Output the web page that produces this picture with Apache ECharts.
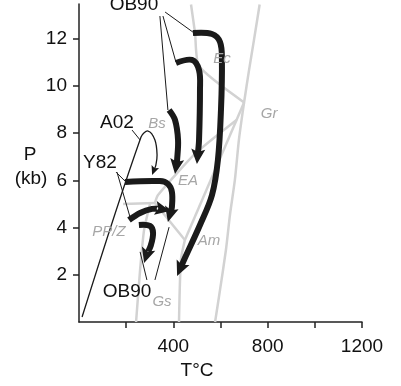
<!DOCTYPE html>
<html>
<head>
<meta charset="utf-8">
<script src="https://cdn.jsdelivr.net/npm/echarts@6/dist/echarts.min.js"></script>
<style>
  html, body { margin: 0; padding: 0; background: #fff; }
  #chart { width: 401px; height: 386px; }
</style>
</head>
<body>
<div id="chart"></div>
<script>
// axis ticks
var xTicks = [200, 400, 600, 800, 1000, 1200];
var xLabels = [400, 800, 1200];
var yTicks = [2, 4, 6, 8, 10, 12];

// facies boundaries [T °C, P kb]
var grLine = [[766, 13.45], [742, 11.95], [721, 10.67], [700, 9.3], [678, 7.71], [661, 6.02], [640, 4.53], [623, 3.05], [598, 1.36], [577, 0]];
var bsEcLine = [[475, 13.45], [492, 12.24], [509, 10.84], [700, 9.3]];
var eaAmLine = [[700, 9.3], [449, 3.47]];
var gsAmLine = [[449, 3.47], [432, 2.63], [424, 0]];
var bsEaLine = [[668, 8.56], [496, 7.16], [335, 5.38], [322, 5.04]];
var ppBsLine = [[187, 5.0], [322, 5.04]];
var gsEaLine = [[322, 5.04], [449, 3.47]];
var ppGsLine = [[301, 5.0], [276, 3.9], [259, 2.2], [242, 0]];

// P-T paths, last point = arrow tip
var ob90Big = [[483, 12.24], [564, 12.2], [598, 11.86], [606, 11.1], [602, 8.98], [589, 6.86], [564, 5.38], [513, 4.11], [449, 2.71], [416, 1.95]];
var ob90Mid = [[411, 10.97], [479, 11.1], [509, 10.67], [513, 9.83], [509, 7.71], [500, 6.69]];
var ob90Left = [[382, 8.98], [407, 8.56], [420, 7.71], [416, 6.86], [407, 6.27]];
var y82Upper = [[195, 5.93], [343, 5.97], [377, 5.85], [394, 5.51], [394, 4.87], [377, 4.24]];
var y82Lower = [[212, 4.32], [259, 4.62], [310, 4.79], [343, 4.79], [386, 4.70]];
var ob90Low = [[254, 4.11], [301, 4.07], [314, 3.77], [305, 3.26], [288, 2.88], [276, 2.50]];
var a02Path = [[13, 0.21], [263, 7.84], [293, 8.09], [322, 7.71], [331, 7.07], [326, 6.65], [310, 6.23]];

// label leader lines
var leaders = [
  [[365, 13.13], [483, 12.28]],
  [[356, 12.96], [411, 11.01]],
  [[343, 12.96], [377, 8.98]],
  [[157, 6.35], [199, 5.93]],
  [[161, 6.35], [220, 4.32]],
  [[225, 8.13], [259, 7.71]],
  [[288, 1.78], [259, 2.97]],
  [[322, 1.78], [382, 4.02]]
];

var blackLabels = [['OB90', 233, 13.43], ['A02', 161, 8.43], ['Y82', 89, 6.74], ['OB90', 204, 1.27]];
var faciesLabels = [['Ec', 606, 11.14], ['Gr', 806, 8.81], ['Bs', 331, 8.39], ['EA', 462, 5.97], ['Am', 551, 3.43], ['Gs', 352, 0.85], ['PP/Z', 127, 3.81]];

var ink = '#1a1a1a';
var grey = '#d2d2d2';
var font = 'Liberation Sans';

var chart = echarts.init(document.getElementById('chart'));

function greySeries(data) {
  return {
    type: 'line', data: data, symbol: 'none', smooth: 0.2, z: 1,
    lineStyle: { color: grey, width: 2.5 }, silent: true
  };
}
function leaderSeries(data) {
  return {
    type: 'line', data: data, symbol: 'none', z: 2,
    lineStyle: { color: ink, width: 1 }, silent: true
  };
}

// paths with arrow heads
function arrowSeries(list, width, headLen, headHalf) {
  return {
    type: 'custom',
    z: 3,
    silent: true,
    encode: { x: 0, y: 1 },
    data: list.map(function (p, i) { return [p[0][0], p[0][1], i]; }),
    renderItem: function (params, api) {
      var pts = list[params.dataIndex].map(function (d) { return api.coord(d); });
      var n = pts.length, tip = pts[n - 1], prev = pts[n - 2];
      var dx = tip[0] - prev[0], dy = tip[1] - prev[1];
      var L = Math.sqrt(dx * dx + dy * dy);
      var ux = dx / L, uy = dy / L, nx = -uy, ny = ux;
      var bx = tip[0] - ux * headLen, by = tip[1] - uy * headLen;
      var body = pts.slice(0, n - 1).concat([[tip[0] - ux * headLen * 0.7, tip[1] - uy * headLen * 0.7]]);
      return {
        type: 'group',
        children: [
          { type: 'polyline', shape: { points: body, smooth: 0.35 },
            style: { stroke: ink, lineWidth: width, fill: null, lineJoin: 'round' } },
          { type: 'polygon',
            shape: { points: [tip, [bx + nx * headHalf, by + ny * headHalf],
              [tip[0] - ux * headLen * 0.8, tip[1] - uy * headLen * 0.8],
              [bx - nx * headHalf, by - ny * headHalf]] },
            style: { fill: ink } }
        ]
      };
    }
  };
}

function labelSeries(list, style) {
  return {
    type: 'custom',
    z: 5,
    silent: true,
    encode: { x: 0, y: 1 },
    data: list.map(function (l) { return [l[1], l[2], l[0]]; }),
    renderItem: function (params, api) {
      var p = api.coord([api.value(0), api.value(1)]);
      return {
        type: 'text', x: p[0], y: p[1],
        style: Object.assign({ text: list[params.dataIndex][0], align: 'center', verticalAlign: 'middle' }, style)
      };
    }
  };
}

var option = {
  animation: false,
  backgroundColor: '#fff',
  grid: { left: 79, right: 39, top: 4, bottom: 64, containLabel: false, outerBoundsMode: 'none' },
  xAxis: {
    type: 'value', min: 0, max: 1200,
    axisLine: { show: true, onZero: false, lineStyle: { color: '#222', width: 1.5 } },
    axisTick: { show: true, customValues: xTicks, length: 6, lineStyle: { color: '#222', width: 1.5 } },
    axisLabel: { customValues: xLabels, margin: 15, fontSize: 19, color: '#111', fontFamily: font,
      formatter: function (v) { return String(v); } },
    splitLine: { show: false }
  },
  yAxis: {
    type: 'value', min: 0, max: 13.47,
    axisLine: { show: true, onZero: false, lineStyle: { color: '#222', width: 1.5 } },
    axisTick: { show: true, customValues: yTicks, length: 6, lineStyle: { color: '#222', width: 1.5 } },
    axisLabel: { customValues: yTicks, margin: 12, fontSize: 19, color: '#111', fontFamily: font },
    splitLine: { show: false }
  },
  graphic: [
    { type: 'text', x: 30, y: 155, style: { text: 'P', font: '19px ' + font, fill: '#111', align: 'center', verticalAlign: 'middle' } },
    { type: 'text', x: 31, y: 179, style: { text: '(kb)', font: '19px ' + font, fill: '#111', align: 'center', verticalAlign: 'middle' } },
    { type: 'text', x: 197, y: 371, style: { text: 'T°C', font: '19px ' + font, fill: '#111', align: 'center', verticalAlign: 'middle' } }
  ],
  series: [
    greySeries(grLine), greySeries(bsEcLine), greySeries(eaAmLine), greySeries(gsAmLine),
    greySeries(bsEaLine), greySeries(ppBsLine), greySeries(gsEaLine), greySeries(ppGsLine)
  ].concat(leaders.map(leaderSeries)).concat([
    arrowSeries([ob90Big, ob90Mid, ob90Left, y82Upper, y82Lower, ob90Low], 6, 15, 7),
    arrowSeries([a02Path], 1.3, 9, 4),
    labelSeries(blackLabels, { fill: '#111', fontSize: 19, fontFamily: font }),
    labelSeries(faciesLabels, { fill: '#a6a6a6', fontSize: 15, fontFamily: font, fontStyle: 'italic' })
  ])
};

chart.setOption(option);
</script>
</body>
</html>
